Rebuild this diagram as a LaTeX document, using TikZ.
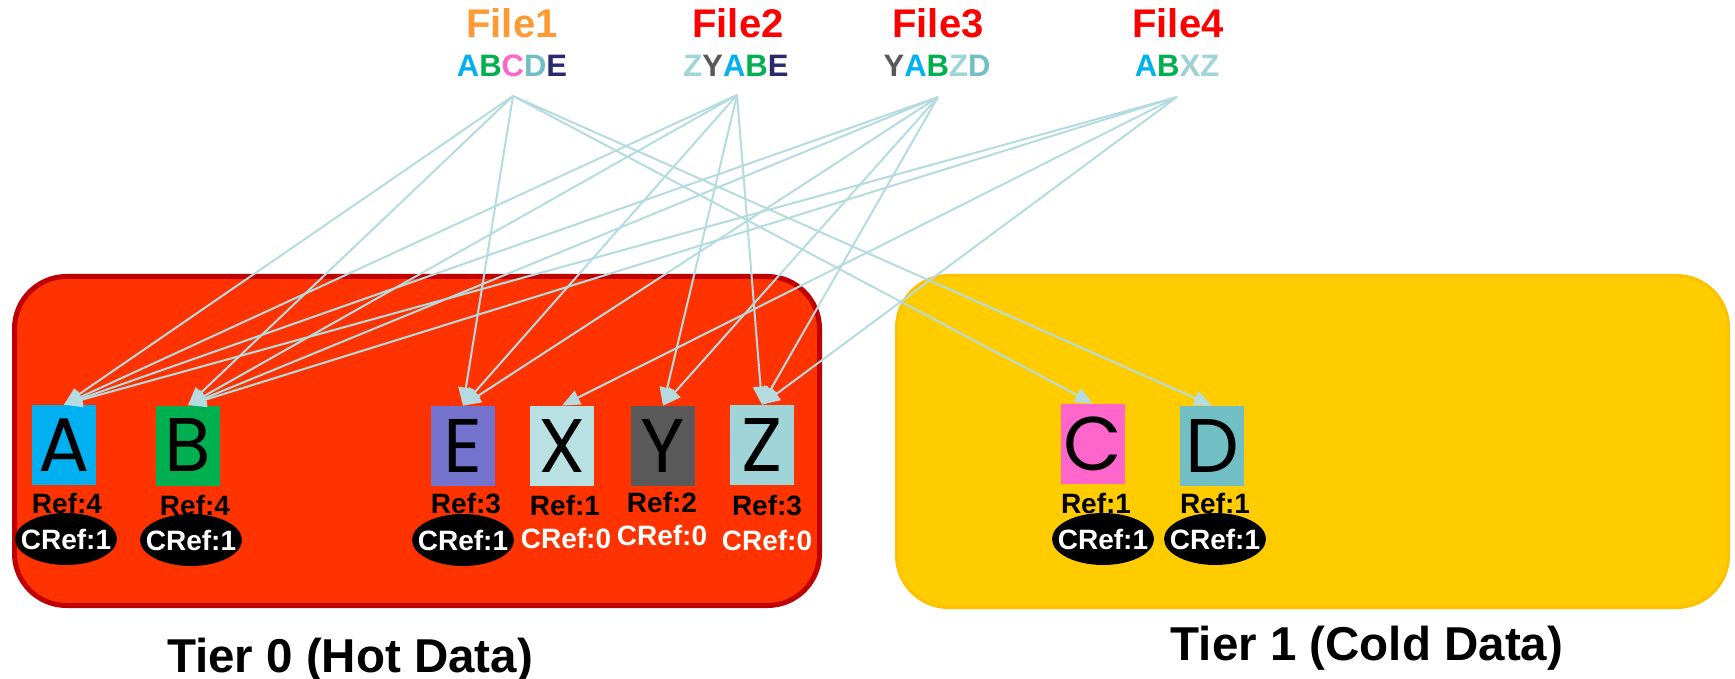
\documentclass[tikz,border=0pt]{standalone}
\usepackage{fontspec}
\setmainfont{Liberation Sans}
\newfontfamily\geofont{Poppins}
\usetikzlibrary{arrows.meta,shapes.geometric}

\definecolor{hotfill}{HTML}{FF3300}
\definecolor{hotedge}{HTML}{C00000}
\definecolor{coldfill}{HTML}{FFCC00}
\definecolor{coldedge}{HTML}{FFC000}
\definecolor{linkc}{HTML}{B4DCE0}
\definecolor{cA}{HTML}{00B0F0}
\definecolor{cB}{HTML}{00B050}
\definecolor{cC}{HTML}{FF66CC}
\definecolor{cD}{HTML}{71BFC5}
\definecolor{cEtext}{HTML}{2B2A6E}
\definecolor{cEbox}{HTML}{7474CF}
\definecolor{cX}{HTML}{B9E0E3}
\definecolor{cXtext}{HTML}{9FD0D6}
\definecolor{cY}{HTML}{595959}
\definecolor{cZ}{HTML}{9FD4D8}
\definecolor{fileone}{HTML}{FF9933}
\definecolor{fileother}{HTML}{FF0000}

\tikzset{
  block/.style={rectangle, inner sep=0pt, minimum width=32pt, minimum height=40pt,
    font=\geofont\fontsize{38}{38}\selectfont, text=black},
  reflabel/.style={inner sep=0pt, text=black, font=\bfseries\fontsize{14}{14}\selectfont},
  crefoval/.style={ellipse, fill=black, inner xsep=-5pt, inner ysep=0pt,
    minimum width=51pt, minimum height=26pt,
    text=white, font=\bfseries\fontsize{14}{14}\selectfont},
  crefplain/.style={inner sep=0pt, text=white, font=\bfseries\fontsize{14}{14}\selectfont},
  filetitle/.style={inner sep=0pt, anchor=base, font=\bfseries\fontsize{20}{20}\selectfont},
  filechunks/.style={inner sep=0pt, anchor=base, font=\bfseries\fontsize{15.5}{15.5}\selectfont},
  tierlabel/.style={inner sep=0pt, anchor=base, text=black, font=\bfseries\fontsize{23.75}{23.75}\selectfont},
  link/.style={draw=linkc, line width=1pt, -{Triangle[length=9pt,width=7.5pt]}},
}

\begin{document}
\begin{tikzpicture}[x=0.5pt, y=-0.5pt]
\useasboundingbox (0,0) rectangle (1735,679);

% storage tiers
\draw[fill=hotfill, draw=hotedge, line width=2.5pt, rounded corners=26pt]
  (14.5,276.5) rectangle (819.5,605.5);
\draw[fill=coldfill, draw=coldedge, line width=1.5pt, rounded corners=26pt]
  (896.5,275.5) rectangle (1728.5,607.5);

\node[tierlabel] (t0) at (350,672) {Tier 0 (Hot Data)};
\node[tierlabel] (t1) at (1367,660) {Tier 1 (Cold Data)};

% files and their chunk sequences
\node[filetitle, text=fileone] (f1) at (512,38) {File1};
\node[filechunks] (q1) at (512,77) {{\color{cA}A}{\color{cB}B}{\color{cC}C}{\color{cD}D}{\color{cEtext}E}};
\node[filetitle, text=fileother] (f2) at (738,38) {File2};
\node[filechunks] (q2) at (736,77) {{\color{cZ}Z}{\color{cY}Y}{\color{cA}A}{\color{cB}B}{\color{cEtext}E}};
\node[filetitle, text=fileother] (f3) at (938,38) {File3};
\node[filechunks] (q3) at (937,77) {{\color{cY}Y}{\color{cA}A}{\color{cB}B}{\color{cZ}Z}{\color{cD}D}};
\node[filetitle, text=fileother] (f4) at (1178,38) {File4};
\node[filechunks] (q4) at (1177,77) {{\color{cA}A}{\color{cB}B}{\color{cXtext}X}{\color{cZ}Z}};

\coordinate (s1) at (513,96);
\coordinate (s2) at (737,95);
\coordinate (s3) at (938,97);
\coordinate (s4) at (1177,97);

% chunk blocks
\node[block, fill=cA]   (bA) at (64,445)   {A};
\node[block, fill=cB]   (bB) at (188,445.5) {B};
\node[block, fill=cEbox] (bE) at (463,446) {E};
\node[block, fill=cX]   (bX) at (562,446)  {X};
\node[block, fill=cY]   (bY) at (663,446)  {Y};
\node[block, fill=cZ]   (bZ) at (762,445)  {Z};
\node[block, fill=cC]   (bC) at (1093,444) {C};
\node[block, fill=cD]   (bD) at (1212,446) {D};

% reference counters
\node[reflabel] (rA) at (67,503)   {Ref:4};
\node[reflabel] (rB) at (195,505)  {Ref:4};
\node[reflabel] (rE) at (466,504)  {Ref:3};
\node[reflabel] (rX) at (565,505)  {Ref:1};
\node[reflabel] (rY) at (662,502)  {Ref:2};
\node[reflabel] (rZ) at (767,506)  {Ref:3};
\node[reflabel] (rC) at (1096,503) {Ref:1};
\node[reflabel] (rD) at (1215,503) {Ref:1};

\node[crefoval] (cA) at (66,539)   {CRef:1};
\node[crefoval] (cB) at (191,540)  {CRef:1};
\node[crefoval] (cE) at (463,540)  {CRef:1};
\node[crefplain] (cX) at (566,538) {CRef:0};
\node[crefplain] (cY) at (662,535) {CRef:0};
\node[crefplain] (cZ) at (767,540) {CRef:0};
\node[crefoval] (cC) at (1103,539) {CRef:1};
\node[crefoval] (cD) at (1215,539) {CRef:1};

% file -> chunk references
\foreach \t in {bA,bB,bE,bC,bD} \draw[link] (s1) -- (\t.north);
\foreach \t in {bA,bB,bE,bY,bZ} \draw[link] (s2) -- (\t.north);
\foreach \t in {bA,bB,bE,bY,bZ} \draw[link] (s3) -- (\t.north);
\foreach \t in {bA,bB,bX,bZ}    \draw[link] (s4) -- (\t.north);
\end{tikzpicture}
\end{document}
